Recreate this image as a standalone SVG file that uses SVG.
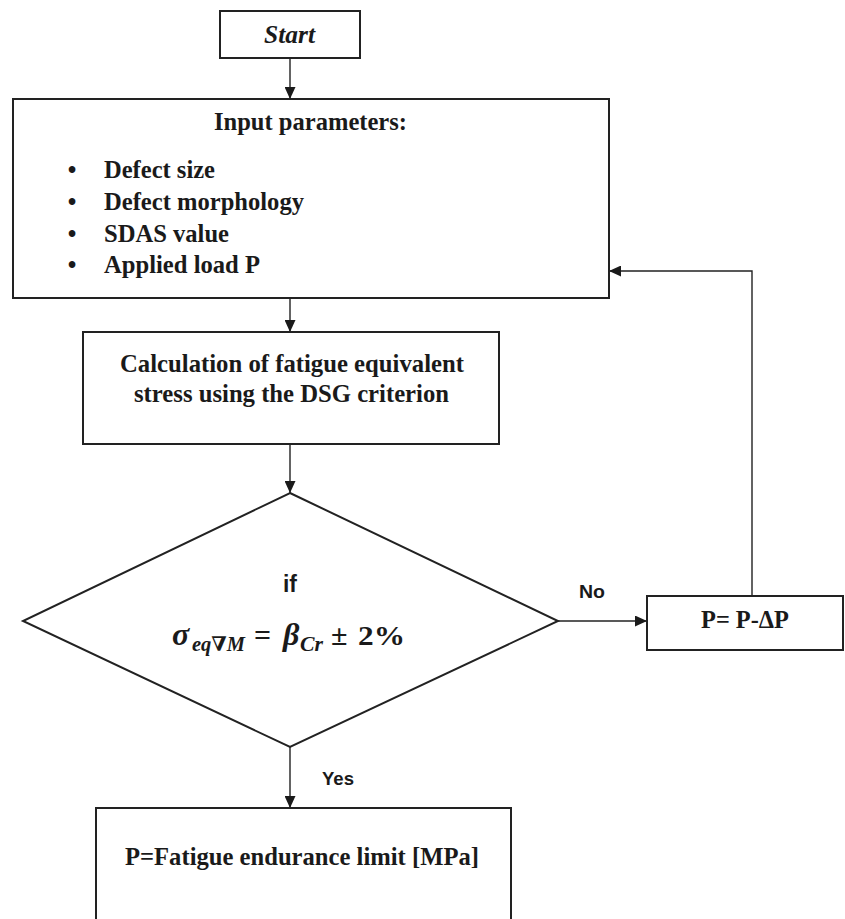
<svg xmlns="http://www.w3.org/2000/svg" width="845" height="919" viewBox="0 0 845 919">
<defs>
<style>
.box{fill:#fff;stroke:#222;stroke-width:2}
.con{fill:none;stroke:#222;stroke-width:1.4}
.t{font-family:"Liberation Serif","Times New Roman",serif;font-weight:bold;font-size:24.6px;fill:#1a1a1a}
.s{font-family:"Liberation Sans",Arial,sans-serif;font-weight:bold;fill:#1a1a1a}
.m{font-family:"Liberation Serif","DejaVu Serif",serif;font-weight:bold;fill:#1a1a1a}
</style>
<marker id="ah" markerUnits="userSpaceOnUse" markerWidth="12" markerHeight="11" refX="12" refY="5.5" orient="auto">
<path d="M0,0 L12,5.5 L0,11 z" fill="#1a1a1a"/>
</marker>
</defs>
<rect width="845" height="919" fill="#fff"/>
<g id="connectors">
<line class="con" x1="290" y1="58" x2="290" y2="99" marker-end="url(#ah)"/>
<line class="con" x1="290" y1="298" x2="290" y2="332" marker-end="url(#ah)"/>
<line class="con" x1="290" y1="444" x2="290" y2="493" marker-end="url(#ah)"/>
<line class="con" x1="558" y1="621" x2="647" y2="621" marker-end="url(#ah)"/>
<polyline class="con" points="752,596 752,271 609,271" marker-end="url(#ah)"/>
<line class="con" x1="290" y1="747" x2="290" y2="808" marker-end="url(#ah)"/>
<text class="s" x="579" y="598" font-size="18" textLength="26" lengthAdjust="spacingAndGlyphs">No</text>
<text class="s" x="322" y="785" font-size="19" textLength="32" lengthAdjust="spacingAndGlyphs">Yes</text>
</g>
<g id="start">
<rect class="box" x="220" y="11" width="140" height="47"/>
<text class="t" x="264" y="43" font-style="italic" textLength="51" lengthAdjust="spacingAndGlyphs">Start</text>
</g>
<g id="input">
<rect class="box" x="13" y="99" width="596" height="199"/>
<text class="t" x="214" y="130" textLength="193" lengthAdjust="spacingAndGlyphs">Input parameters:</text>
<text class="t" x="72" y="178" text-anchor="middle">•</text>
<text class="t" x="72" y="210" text-anchor="middle">•</text>
<text class="t" x="72" y="242" text-anchor="middle">•</text>
<text class="t" x="72" y="273" text-anchor="middle">•</text>
<text class="t" x="104" y="178" textLength="111" lengthAdjust="spacingAndGlyphs">Defect size</text>
<text class="t" x="104" y="210" textLength="200" lengthAdjust="spacingAndGlyphs">Defect morphology</text>
<text class="t" x="104" y="242" textLength="125" lengthAdjust="spacingAndGlyphs">SDAS value</text>
<text class="t" x="104" y="273" textLength="156" lengthAdjust="spacingAndGlyphs">Applied load P</text>
</g>
<g id="calc">
<rect class="box" x="83" y="332" width="416" height="112"/>
<text class="t" x="120" y="372" textLength="344" lengthAdjust="spacingAndGlyphs">Calculation of fatigue equivalent</text>
<text class="t" x="134" y="402" textLength="315" lengthAdjust="spacingAndGlyphs">stress using the DSG criterion</text>
</g>
<g id="decision">
<polygon class="box" points="290,493 558,621 290,747 23,621"/>
<text class="s" x="283" y="592" font-size="24" textLength="14" lengthAdjust="spacingAndGlyphs">if</text>
<text class="m" y="645">
<tspan x="172" font-size="32" font-style="italic">σ</tspan><tspan x="192" y="651" font-size="20" font-style="italic" textLength="53" lengthAdjust="spacingAndGlyphs">eq∇M</tspan><tspan x="254" y="645" font-size="30">=</tspan><tspan x="283" font-size="32" font-style="italic">β</tspan><tspan x="300" y="651" font-size="20" font-style="italic" textLength="23" lengthAdjust="spacingAndGlyphs">Cr</tspan><tspan x="331" y="645" font-size="30">±</tspan><tspan x="358" font-size="28" textLength="47" lengthAdjust="spacingAndGlyphs">2%</tspan>
</text>
</g>
<g id="update">
<rect class="box" x="647" y="596" width="196" height="54"/>
<text class="t" x="701" y="628" textLength="88" lengthAdjust="spacingAndGlyphs">P= P-ΔP</text>
</g>
<g id="result">
<rect class="box" x="96" y="808" width="415" height="130"/>
<text class="t" x="125" y="865" textLength="354" lengthAdjust="spacingAndGlyphs">P=Fatigue endurance limit [MPa]</text>
</g>
</svg>
